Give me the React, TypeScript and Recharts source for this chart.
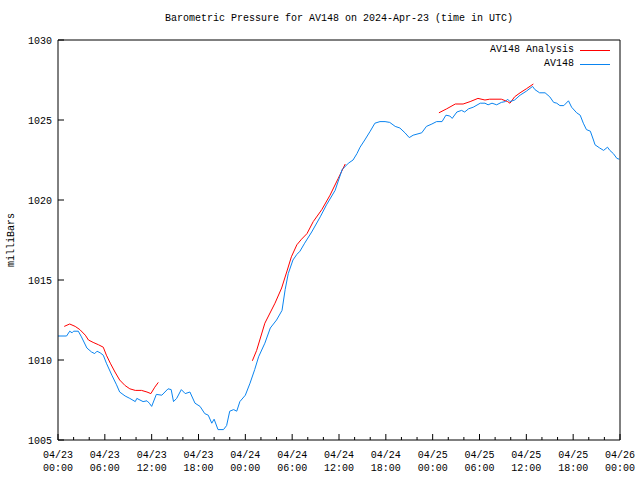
import { Line, LineChart, XAxis, YAxis } from "recharts";

// observed pressure (hours since 2024-04-23 00:00 UTC)
const obsHours = [
  0, 1.1, 1.5, 1.8, 2.0, 2.6, 3.0, 3.7, 4.3, 4.7, 5.0, 5.4, 5.8, 6.2, 6.9, 7.5,
  7.9, 8.6, 9.2, 9.9, 10.1, 10.5, 10.9, 11.4, 11.7, 12.0, 12.6, 13.3, 14.1,
  14.5, 14.8, 15.2, 15.8, 16.3, 16.9, 17.55, 18.2, 18.8, 19.25, 19.7, 20.0,
  20.5, 21.2, 21.6, 22.0, 22.5, 22.9, 23.3, 24.0, 24.6, 25.2, 25.7, 26.5, 27.2,
  28.0, 28.7, 29.1, 29.5, 30.1, 30.6, 31.0, 31.6, 32.5, 33.6, 34.4, 35.5, 36.4,
  37.2, 37.8, 38.3, 38.7, 39.3, 40.0, 40.6, 41.25, 41.9, 42.5, 43.2, 43.8,
  44.45, 45.0, 45.5, 46.6, 47.2, 47.9, 48.5, 49.2, 49.7, 50.2, 50.5, 51.1, 51.7,
  52.1, 52.6, 53.2, 54.1, 54.7, 55.1, 55.6, 56.2, 56.8, 57.3, 57.6, 57.9, 58.5,
  59.2, 60.0, 60.8, 61.1, 61.7, 62.4, 63.0, 63.5, 63.9, 64.3, 64.8, 65.4, 65.8,
  66.45, 66.9, 67.3, 67.7, 68.2, 68.6, 68.8, 69.4, 69.9, 70.4, 70.7, 71.15,
  71.6, 71.9,
];
const obsValues = [
  1011.5, 1011.5, 1011.8, 1011.7, 1011.8, 1011.8, 1011.45, 1010.75, 1010.5,
  1010.4, 1010.55, 1010.45, 1010.3, 1009.8, 1009.05, 1008.45, 1008.0, 1007.75,
  1007.6, 1007.4, 1007.6, 1007.5, 1007.4, 1007.45, 1007.3, 1007.1, 1007.85,
  1007.8, 1008.2, 1008.15, 1007.4, 1007.6, 1008.15, 1007.9, 1008.0, 1007.3,
  1007.1, 1006.65, 1006.55, 1006.05, 1006.3, 1005.65, 1005.65, 1005.9, 1006.8,
  1006.9, 1006.8, 1007.4, 1007.8, 1008.55, 1009.4, 1010.2, 1011.05, 1012.0,
  1012.5, 1013.1, 1014.4, 1015.4, 1016.25, 1016.6, 1016.8, 1017.3, 1018.0,
  1018.95, 1019.7, 1020.6, 1021.9, 1022.3, 1022.5, 1022.9, 1023.3, 1023.75,
  1024.3, 1024.8, 1024.9, 1024.9, 1024.85, 1024.6, 1024.5, 1024.2, 1023.9,
  1024.05, 1024.2, 1024.6, 1024.75, 1024.9, 1024.9, 1025.3, 1025.25, 1025.1,
  1025.5, 1025.6, 1025.5, 1025.7, 1025.8, 1026.05, 1026.05, 1025.95, 1026.05,
  1025.95, 1026.1, 1026.15, 1026.3, 1026.15, 1026.25, 1026.55, 1026.8, 1027.1,
  1026.9, 1026.7, 1026.7, 1026.45, 1026.1, 1026.05, 1025.9, 1025.9, 1026.2,
  1025.8, 1025.45, 1025.3, 1024.8, 1024.4, 1024.3, 1023.75, 1023.45, 1023.25,
  1023.1, 1023.3, 1023.1, 1022.9, 1022.6, 1022.55,
];

// analysis pressure, null marks a gap between runs
const anaHours = [
  0.8, 1.5, 2.2, 2.8, 3.5, 3.9, 4.5, 5.2, 5.8, 6.2, 6.7, 7.3, 7.9, 8.6, 9.2,
  9.9, 10.7, 11.4, 11.9, 12.4, 12.85, 18, 24.9, 25.45, 26.5, 27.8, 28.65, 29.3,
  29.9, 30.6, 31.2, 31.9, 32.7, 33.8, 34.85, 35.9, 36.8, 42, 48.8, 49.8, 50.9,
  51.9, 52.8, 53.8, 54.7, 55.3, 56.8, 57.6, 57.9, 58.5, 59.2, 60.0, 60.9,
];
const anaValues = [
  1012.1, 1012.25, 1012.1, 1011.9, 1011.55, 1011.25, 1011.1, 1010.95, 1010.8,
  1010.3, 1009.8, 1009.25, 1008.75, 1008.4, 1008.2, 1008.1, 1008.1, 1008.0,
  1007.9, 1008.3, 1008.6, null, 1009.95, 1010.6, 1012.3, 1013.55, 1014.5,
  1015.5, 1016.45, 1017.2, 1017.55, 1017.9, 1018.65, 1019.4, 1020.3, 1021.35,
  1022.25, null, 1025.45, 1025.7, 1026.0, 1026.0, 1026.15, 1026.35, 1026.25,
  1026.3, 1026.3, 1026.15, 1026.05, 1026.45, 1026.7, 1026.95, 1027.25,
];

const xTicks = Array.from({ length: 37 }, (_, i) => i * 2);
const yTicks = [1005, 1010, 1015, 1020, 1025, 1030];
const dayLabels = ["04/23", "04/24", "04/25", "04/26"];
const seriesNames = ["AV148 Analysis", "AV148"];

const FONT = "'Liberation Mono', 'DejaVu Sans Mono', monospace";
const RED = "#ff0000";
const BLUE = "#0a84f0";

const obsData = obsHours.map((h, i) => ({ h, p: obsValues[i] }));
const anaData = anaHours.map((h, i) => ({ h, p: anaValues[i] }));

const BottomTick = ({ x, y, payload }: any) => {
  const h = payload.value;
  const major = h % 6 === 0;
  const hh = String(h % 24).padStart(2, "0");
  return (
    <g>
      <line x1={x} y1={y} x2={x} y2={y - (major ? 6 : 3)} stroke="#000" />
      {major && (
        <text x={x} y={y + 18} textAnchor="middle" fontSize={10} fontFamily={FONT} fill="#000">
          <tspan x={x}>{dayLabels[Math.floor(h / 24)]}</tspan>
          <tspan x={x} dy={13}>{hh}:00</tspan>
        </text>
      )}
    </g>
  );
};

const TopTick = ({ x, y, payload }: any) => {
  const major = payload.value % 6 === 0;
  return <line x1={x} y1={y} x2={x} y2={y + (major ? 6 : 3)} stroke="#000" />;
};

const LeftTick = ({ x, y, payload }: any) => (
  <g>
    <line x1={x} y1={y} x2={x + 6} y2={y} stroke="#000" />
    <text x={x - 6} y={y + 4} textAnchor="end" fontSize={10} fontFamily={FONT} fill="#000">
      {payload.value}
    </text>
  </g>
);

const RightTick = ({ x, y }: any) => (
  <line x1={x} y1={y} x2={x - 6} y2={y} stroke="#000" />
);

const KeyBox = () => (
  <div
    style={{
      position: "absolute",
      top: 43,
      right: 30,
      fontFamily: FONT,
      fontSize: 10,
      color: "#000",
      lineHeight: "14px",
    }}
  >
    {seriesNames.map((name, i) => (
      <div key={name} style={{ display: "flex", justifyContent: "flex-end", alignItems: "center" }}>
        <span style={{ marginRight: 6 }}>{name}</span>
        <span style={{ display: "inline-block", width: 30, height: 1, background: i === 0 ? RED : BLUE }} />
      </div>
    ))}
  </div>
);

export default function App() {
  return (
    <div style={{ position: "absolute", left: 0, top: 0, width: 640, height: 480, background: "#fff" }}>
      <div
        style={{
          position: "absolute",
          top: 13,
          left: 58,
          width: 562,
          textAlign: "center",
          fontFamily: FONT,
          fontSize: 10,
        }}
      >
        Barometric Pressure for AV148 on 2024-Apr-23 (time in UTC)
      </div>
      <div
        style={{
          position: "absolute",
          left: 11,
          top: 240,
          transform: "translate(-50%, -50%) rotate(-90deg)",
          fontFamily: FONT,
          fontSize: 10,
          whiteSpace: "nowrap",
        }}
      >
        milliBars
      </div>
      <LineChart
        width={640}
        height={480}
        margin={{ top: 39, right: 19, bottom: 0, left: 0 }}
      >
        <XAxis
          xAxisId="b"
          dataKey="h"
          type="number"
          domain={[0, 72]}
          ticks={xTicks}
          interval={0}
          height={40}
          tickSize={0}
          tickMargin={0}
          tickLine={false}
          tick={<BottomTick />}
          axisLine={{ stroke: "#000" }}
          allowDataOverflow
        />
        <XAxis
          xAxisId="t"
          orientation="top"
          dataKey="h"
          type="number"
          domain={[0, 72]}
          ticks={xTicks}
          interval={0}
          height={1}
          tickSize={0}
          tickMargin={0}
          tickLine={false}
          tick={<TopTick />}
          axisLine={{ stroke: "#000" }}
        />
        <YAxis
          yAxisId="l"
          type="number"
          domain={[1005, 1030]}
          ticks={yTicks}
          interval={0}
          width={58}
          tickSize={0}
          tickMargin={0}
          tickLine={false}
          tick={<LeftTick />}
          axisLine={{ stroke: "#000" }}
          allowDataOverflow
        />
        <YAxis
          yAxisId="r"
          orientation="right"
          type="number"
          domain={[1005, 1030]}
          ticks={yTicks}
          interval={0}
          width={1}
          tickSize={0}
          tickMargin={0}
          tickLine={false}
          tick={<RightTick />}
          axisLine={{ stroke: "#000" }}
        />
        <Line
          xAxisId="b"
          yAxisId="l"
          data={anaData}
          dataKey="p"
          name={seriesNames[0]}
          stroke={RED}
          strokeWidth={1}
          dot={false}
          connectNulls={false}
          isAnimationActive={false}
        />
        <Line
          xAxisId="b"
          yAxisId="l"
          data={obsData}
          dataKey="p"
          name={seriesNames[1]}
          stroke={BLUE}
          strokeWidth={1}
          dot={false}
          isAnimationActive={false}
        />
      </LineChart>
      <KeyBox />
    </div>
  );
}
